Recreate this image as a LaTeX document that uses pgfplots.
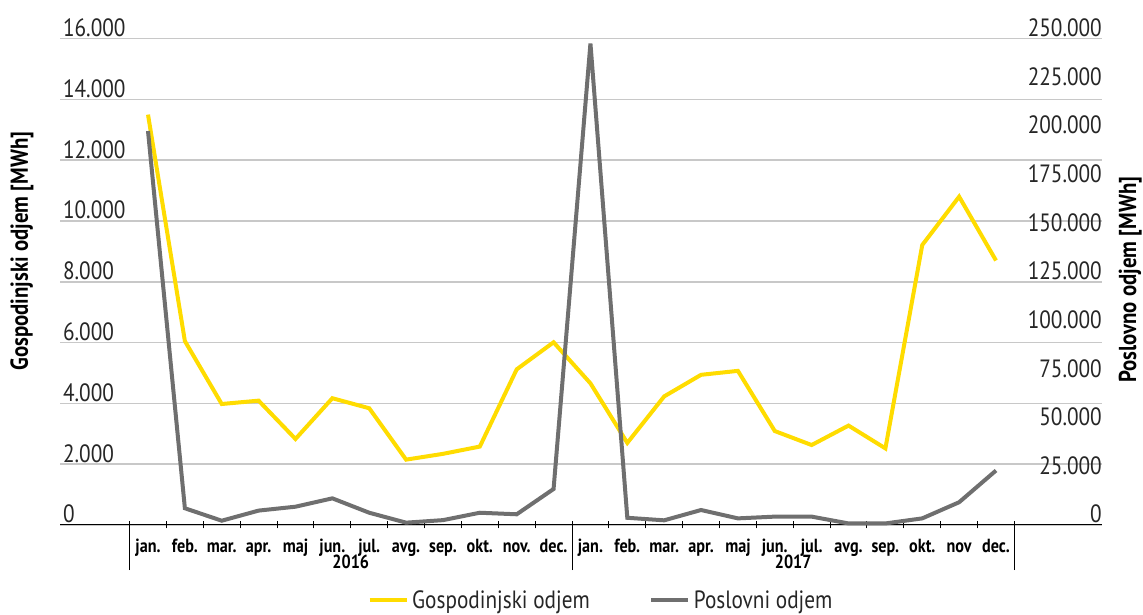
\documentclass[border=0pt]{standalone}
\usepackage{fontspec}
\setmainfont{PT Sans}[FakeStretch=0.85]
\usepackage{pgfplots}
\pgfplotsset{compat=1.18}
\definecolor{yel}{HTML}{FFDC00}
\definecolor{gry}{HTML}{6F6F6F}
\definecolor{grd}{HTML}{C8C8C8}
\newcommand{\tickfont}{\fontsize{25bp}{30bp}\selectfont}
\newcommand{\monthfont}{\bfseries\fontsize{19bp}{22bp}\selectfont}
\newcommand{\labfont}{\bfseries\fontsize{24.5bp}{28bp}\selectfont}

\begin{document}
\begin{tikzpicture}[x=1bp,y=1bp]
\path[use as bounding box] (0,0) rectangle (1143,615);
\begin{axis}[
  at={(60bp,90bp)}, anchor=south west,
  scale only axis, width=1042bp, height=486.4bp,
  xmin=-2.387, xmax=25.875, ymin=0, ymax=16000,
  clip=false,
  axis x line*=bottom, axis y line*=left,
  x axis line style={black, line width=1bp, -},
  y axis line style={draw=none},
  scaled y ticks=false,
  ytick={0,2000,...,16000},
  ymajorgrids, grid style={grd, line width=1.5bp},
  major y tick style={draw=none},
  yticklabel style={anchor=south west, inner xsep=5bp, inner ysep=1.5bp, font=\tickfont, text=black!85},
  yticklabel={\pgfmathprintnumber[fixed, precision=0, 1000 sep={.}, assume math mode=true]{\tick}},
  xtick={0,...,23},
  xticklabels={jan.,feb.,mar.,apr.,maj,jun.,jul.,avg.,sep.,okt.,nov.,dec.,jan.,feb.,mar.,apr.,maj,jun.,jul.,avg.,sep.,okt.,nov,dec.},
  major x tick style={draw=none},
  minor xtick={-0.5,0.5,...,23.5},
  minor x tick style={black, line width=1bp},
  minor tick length=7bp,
  tick align=center,
  extra x ticks={-0.5,11.5,23.5},
  extra x tick style={xticklabel={}, major tick length=45bp, tick align=outside, major x tick style={draw=black, line width=1bp}},
  xticklabel style={font=\monthfont, text=black, inner sep=0pt, anchor=base, yshift=-25bp},
  ylabel={Gospodinjski odjem [MWh]},
  every axis y label/.style={at={(axis description cs:-0.0365,0.563)}, anchor=center, rotate=90, font=\labfont},
  legend columns=2,
  legend style={at={(0.52,-0.155)}, anchor=center, draw=none, font=\tickfont, text=black!85,
    inner sep=0pt, nodes={inner xsep=3.5bp, inner ysep=0pt},
    /tikz/every even column/.append style={column sep=56bp}},
  legend image code/.code={\draw[#1] (0bp,0bp) -- (37bp,0bp);},
]
\addplot[yel, line width=4bp] coordinates {
(0,13500) (1,6050) (2,3980) (3,4090) (4,2830) (5,4170) (6,3840) (7,2150)
(8,2340) (9,2580) (10,5120) (11,6010) (12,4660) (13,2700) (14,4230) (15,4940)
(16,5070) (17,3090) (18,2630) (19,3270) (20,2520) (21,9210) (22,10800) (23,8700)};
\addlegendentry{Gospodinjski odjem}
\addlegendimage{gry, line width=4bp}
\addlegendentry{Poslovni odjem}
\node[font=\monthfont, anchor=base, inner sep=0pt] at (axis cs:5.5,0) [yshift=-44bp] {2016};
\node[font=\monthfont, anchor=base, inner sep=0pt] at (axis cs:17.5,0) [yshift=-44bp] {2017};
\end{axis}
\begin{axis}[
  at={(60bp,90bp)}, anchor=south west,
  scale only axis, width=1042bp, height=486.4bp,
  xmin=-2.387, xmax=25.875, ymin=0, ymax=250000,
  clip=false,
  axis x line=none, axis y line*=right,
  y axis line style={draw=none},
  scaled y ticks=false,
  ytick={0,25000,...,250000},
  major y tick style={draw=none},
  yticklabel style={anchor=south east, inner xsep=0bp, inner ysep=1.5bp, font=\tickfont, text=black!85},
  yticklabel={\pgfmathprintnumber[fixed, precision=0, 1000 sep={.}, assume math mode=true]{\tick}},
  ylabel={Poslovno odjem [MWh]},
  every axis y label/.style={at={(axis description cs:1.027,0.504)}, anchor=center, rotate=90, font=\labfont},
]
\addplot[gry, line width=4bp] coordinates {
(0,202500) (1,8600) (2,2200) (3,7400) (4,9400) (5,13700) (6,6300) (7,1200)
(8,2500) (9,6300) (10,5500) (11,18500) (12,247500) (13,3700) (14,2400) (15,7700)
(16,3400) (17,4300) (18,4300) (19,800) (20,800) (21,3400) (22,11700) (23,28000)};
\end{axis}
\end{tikzpicture}
\end{document}
